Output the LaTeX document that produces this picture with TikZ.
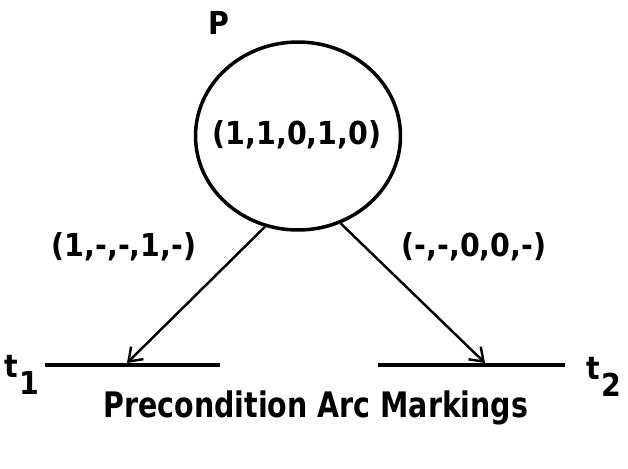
\documentclass[tikz,border=0pt]{standalone}
\usepackage{fontspec}
\setmainfont{DejaVu Sans Condensed}
\usetikzlibrary{shapes.geometric, arrows.meta, positioning}

\begin{document}
\begin{tikzpicture}[x=0.02cm, y=-0.02cm,
  lbl/.style={font=\bfseries\fontsize{18}{21}\selectfont, inner sep=0pt},
  bar/.style={line width=2pt},
  arc/.style={line width=1.4pt, -{Straight Barb[length=7pt, width=10pt, line width=1.4pt]}}]
  \useasboundingbox (0,0) rectangle (628,468);
  % place
  \node[ellipse, draw, line width=2pt, minimum width=4.1cm, minimum height=3.76cm] (p) at (298,136) {};
  \node[lbl] (pname) at (219,23) {P};
  \node[lbl] (pmark) at (297,135) {(1,1,0,1,0)};
  % transitions
  \coordinate (t1l) at (45,365);
  \coordinate (t1r) at (220,365);
  \coordinate (t1in) at (127,363);
  \coordinate (t2l) at (378,365);
  \coordinate (t2r) at (565,365);
  \coordinate (t2in) at (485,363);
  \draw[bar] (t1l) -- (t1r);
  \draw[bar] (t2l) -- (t2r);
  \node[lbl, anchor=base east] (t1) at ([xshift=-3pt, yshift=-7pt]t1l) {t\kern1pt\raisebox{-10pt}{1}};
  \node[lbl, anchor=base west] (t2) at ([xshift=12pt, yshift=-8pt]t2r) {t\kern1pt\raisebox{-10pt}{2}};
  % arcs
  \draw[arc] (p.-110) -- (t1in);
  \draw[arc] (p.-64) -- (t2in);
  \node[lbl] (a1) at (124,247) {(1,-,-,1,-)};
  \node[lbl] (a2) at (474,247) {(-,-,0,0,-)};
  % caption
  \node[font=\bfseries\fontsize{20}{24}\selectfont] (cap) at (316,408) {\scalebox{0.9}[1]{Precondition Arc Markings}};
\end{tikzpicture}
\end{document}
